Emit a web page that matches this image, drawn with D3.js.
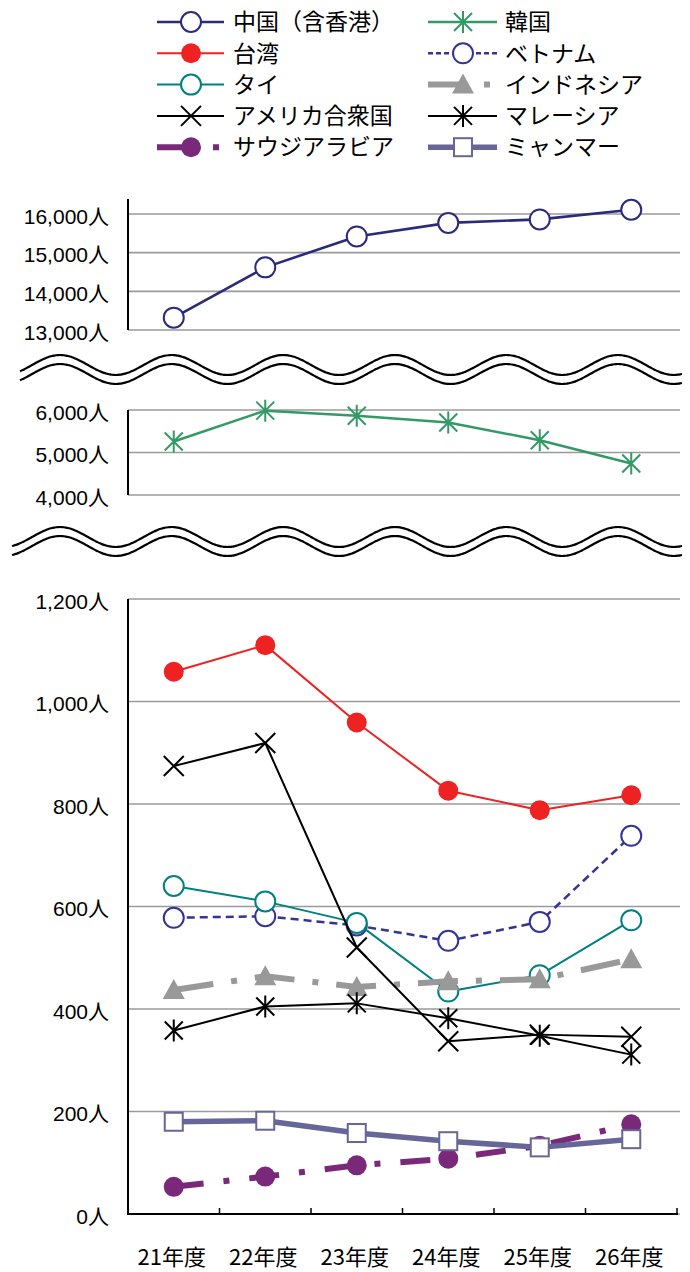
<!DOCTYPE html>
<html>
<head>
<meta charset="utf-8">
<script src="https://cdn.jsdelivr.net/npm/d3@7"></script>
<style>
  body { margin: 0; background: #fff; }
  svg { display: block; }
</style>
</head>
<body>
<div id="chart"></div>
<script>
// fiscal years and values (persons)
const years = ["21年度", "22年度", "23年度", "24年度", "25年度", "26年度"];
const china = [13320, 14620, 15420, 15770, 15860, 16110];
const korea = [5260, 5985, 5866, 5707, 5290, 4743];
const taiwan = [1058, 1110, 959, 826, 788, 817];
const vietnam = [578, 581, 563, 533, 570, 738];
const thai = [640, 610, 568, 434, 466, 573];
const indonesia = [437, 464, 443, 454, 458, 497];
const usa = [874, 919, 520, 337, 350, 346];
const malaysia = [358, 405, 411, 382, 348, 311];
const saudi = [53, 73, 95, 108, 133, 175];
const myanmar = [180, 182, 158, 142, 130, 146];

const topTicks = [13000, 14000, 15000, 16000];
const midTicks = [4000, 5000, 6000];
const lowTicks = [0, 200, 400, 600, 800, 1000, 1200];

const width = 690, height = 1272;
const svg = d3.select("#chart").append("svg")
    .attr("width", width)
    .attr("height", height);

let x = d3.scalePoint().domain(years).range([128, 677]).padding(0.5);

let panels = {
    top: { y: d3.scaleLinear().domain([13000, 16000]).range([330, 214]), ticks: topTicks, axisTop: 199 },
    mid: { y: d3.scaleLinear().domain([4000, 6000]).range([495, 410]), ticks: midTicks, axisTop: 410 },
    low: { y: d3.scaleLinear().domain([0, 1200]).range([1214, 599]), ticks: lowTicks, axisTop: 599 }
};

let series = [
    { name: "中国（含香港）", values: china, panel: "top", color: "#2b2b7b", sw: 2.6, dash: null, marker: "circle" },
    { name: "韓国", values: korea, panel: "mid", color: "#339966", sw: 2.5, dash: null, marker: "star" },
    { name: "台湾", values: taiwan, panel: "low", color: "#ee2222", sw: 2, dash: null, marker: "dot" },
    { name: "ベトナム", values: vietnam, panel: "low", color: "#333399", sw: 2.5, dash: "8,5", marker: "circle" },
    { name: "タイ", values: thai, panel: "low", color: "#008080", sw: 2, dash: null, marker: "circle" },
    { name: "インドネシア", values: indonesia, panel: "low", color: "#999999", sw: 6, dash: "40,18,6,18", marker: "tri" },
    { name: "アメリカ合衆国", values: usa, panel: "low", color: "#000000", sw: 2, dash: null, marker: "x" },
    { name: "マレーシア", values: malaysia, panel: "low", color: "#000000", sw: 2, dash: null, marker: "star" },
    { name: "サウジアラビア", values: saudi, panel: "low", color: "#7a297a", sw: 6, dash: "30,20,6,20", marker: "dot" },
    { name: "ミャンマー", values: myanmar, panel: "low", color: "#666699", sw: 5.5, dash: null, marker: "square" }
];

function drawMarker(g, type, color) {
    if (type == "circle") {
        g.append("circle").attr("r", 10).attr("fill", "#fff").attr("stroke", color).attr("stroke-width", 2);
    } else if (type == "dot") {
        g.append("circle").attr("r", 10).attr("fill", color);
    } else if (type == "star") {
        g.append("path").attr("d", "M0,-11V11M-9,-9L9,9M-9,9L9,-9")
            .attr("stroke", color).attr("stroke-width", 2).attr("fill", "none");
    } else if (type == "x") {
        g.append("path").attr("d", "M-10,-10L10,10M-10,10L10,-10")
            .attr("stroke", color).attr("stroke-width", 2).attr("fill", "none");
    } else if (type == "tri") {
        g.append("path").attr("d", "M0,-11L11,9L-11,9Z").attr("fill", color);
    } else if (type == "square") {
        g.append("rect").attr("x", -9).attr("y", -9).attr("width", 18).attr("height", 18)
            .attr("fill", "#fff").attr("stroke", color).attr("stroke-width", 2);
    }
}

// gridlines, axes and labels for each panel
Object.keys(panels).forEach(function (key) {
    let p = panels[key];
    let g = svg.append("g");
    g.selectAll("line.grid")
        .data(p.ticks)
        .enter().append("line")
        .attr("class", "grid")
        .attr("x1", 128).attr("x2", 680)
        .attr("y1", d => p.y(d)).attr("y2", d => p.y(d))
        .attr("stroke", "#9a9a9a").attr("stroke-width", 1.6);
    g.append("line")
        .attr("x1", 128).attr("x2", 128)
        .attr("y1", p.axisTop).attr("y2", p.y(p.ticks[0]))
        .attr("stroke", "#000").attr("stroke-width", 2);
    g.selectAll("text.ylab")
        .data(p.ticks)
        .enter().append("text")
        .attr("class", "ylab")
        .attr("x", 109)
        .attr("y", d => p.y(d) + 2)
        .attr("dy", "0.36em")
        .attr("text-anchor", "end")
        .style("font-family", "'Liberation Sans', 'Noto Sans CJK JP', sans-serif")
        .style("font-size", "21px")
        .text(d => d3.format(",")(d) + "人");
});

// x axis on the lower panel
let yLow = panels.low.y;
svg.append("line")
    .attr("x1", 127).attr("x2", 678)
    .attr("y1", yLow(0)).attr("y2", yLow(0))
    .attr("stroke", "#000").attr("stroke-width", 2);
svg.selectAll("line.xtick")
    .data(years)
    .enter().append("line")
    .attr("class", "xtick")
    .attr("x1", d => x(d) + x.step() / 2).attr("x2", d => x(d) + x.step() / 2)
    .attr("y1", yLow(0)).attr("y2", yLow(0) - 6)
    .attr("stroke", "#000").attr("stroke-width", 1.5);
svg.selectAll("text.xlab")
    .data(years)
    .enter().append("text")
    .attr("class", "xlab")
    .attr("x", d => x(d) - 2)
    .attr("y", 1265)
    .attr("text-anchor", "middle")
    .style("font-family", "'Noto Sans CJK JP', sans-serif")
    .style("font-size", "22px")
    .text(d => d);

// wavy break marks
function wave(cy, x0) {
    let pts = d3.range(x0, 684, 2).map(function (px) {
        return [px, cy - 10 * Math.cos(2 * Math.PI * (px - 60) / 111.6)];
    });
    return d3.line().curve(d3.curveBasis)(pts);
}
[[365, 20], [374, 20], [537, 12], [546, 12]].forEach(function (w) {
    svg.append("path")
        .attr("d", wave(w[0], w[1]))
        .attr("fill", "none")
        .attr("stroke", "#000")
        .attr("stroke-width", 2.2);
});

// series
series.forEach(function (s) {
    let yScale = panels[s.panel].y;
    let line = d3.line()
        .x((d, i) => x(years[i]))
        .y(d => yScale(d));
    let g = svg.append("g");
    g.append("path")
        .datum(s.values)
        .attr("d", line)
        .attr("fill", "none")
        .attr("stroke", s.color)
        .attr("stroke-width", s.sw)
        .attr("stroke-dasharray", s.dash)
        .attr("stroke-linejoin", "round");
    s.values.forEach(function (v, i) {
        let m = g.append("g").attr("transform", "translate(" + x(years[i]) + "," + yScale(v) + ")");
        drawMarker(m, s.marker, s.color);
    });
});

// legend
let legCols = [{ x0: 157, x1: 224, mx: 191, tx: 233 }, { x0: 428, x1: 497, mx: 463, tx: 505 }];
series.forEach(function (s, i) {
    let c = legCols[i % 2];
    let ly = 22 + Math.floor(i / 2) * 31.3;
    let g = svg.append("g");
    g.append("line")
        .attr("x1", c.x0).attr("x2", c.x1)
        .attr("y1", ly).attr("y2", ly)
        .attr("stroke", s.color)
        .attr("stroke-width", s.sw)
        .attr("stroke-dasharray", s.dash ? (s.sw > 4 ? "36,20,6,40" : "5,3") : null);
    let m = g.append("g").attr("transform", "translate(" + c.mx + "," + ly + ")");
    drawMarker(m, s.marker, s.color);
    g.append("text")
        .attr("x", c.tx)
        .attr("y", ly)
        .attr("dy", "0.36em")
        .style("font-family", "'Noto Sans CJK JP', sans-serif")
        .style("font-size", "23px")
        .text(s.name);
});
</script>
</body>
</html>
